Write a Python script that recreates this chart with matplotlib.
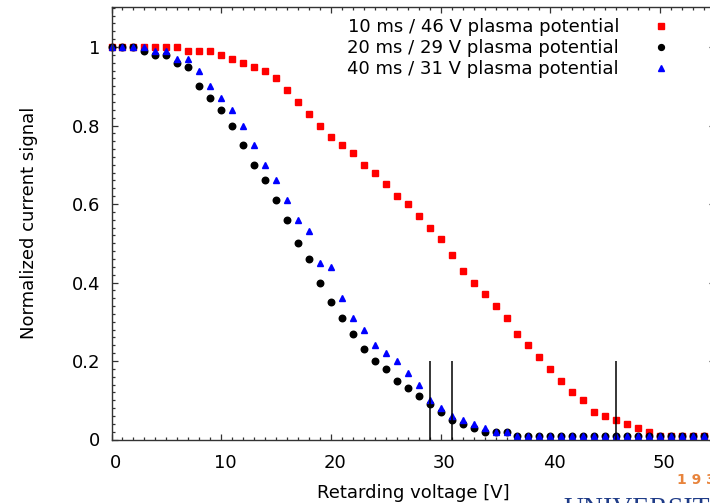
import matplotlib
matplotlib.use("Agg")
import matplotlib.pyplot as plt
from matplotlib.ticker import MultipleLocator, FuncFormatter
from matplotlib.transforms import ScaledTranslation

plt.rcParams['font.family'] = ['DejaVu Sans']

# ---- data ----
voltage = list(range(0, 55))

signal_10ms = [1.0, 1.0, 1.0, 1.0, 1.0, 1.0, 1.0, 0.99, 0.99, 0.99,
               0.98, 0.97, 0.96, 0.95, 0.94, 0.92, 0.89, 0.86, 0.83, 0.80,
               0.77, 0.75, 0.73, 0.70, 0.68, 0.65, 0.62, 0.60, 0.57, 0.54,
               0.51, 0.47, 0.43, 0.40, 0.37, 0.34, 0.31, 0.27, 0.24, 0.21,
               0.18, 0.15, 0.12, 0.10, 0.07, 0.06, 0.05, 0.04, 0.03, 0.02,
               0.01, 0.01, 0.01, 0.01, 0.01]

signal_20ms = [1.0, 1.0, 1.0, 0.99, 0.98, 0.98, 0.96, 0.95, 0.90, 0.87,
               0.84, 0.80, 0.75, 0.70, 0.66, 0.61, 0.56, 0.50, 0.46, 0.40,
               0.35, 0.31, 0.27, 0.23, 0.20, 0.18, 0.15, 0.13, 0.11, 0.09,
               0.07, 0.05, 0.04, 0.03, 0.02, 0.02, 0.02, 0.01, 0.01, 0.01,
               0.01, 0.01, 0.01, 0.01, 0.01, 0.01, 0.01, 0.01, 0.01, 0.01,
               0.01, 0.01, 0.01, 0.01, 0.01]

signal_40ms = [1.0, 1.0, 1.0, 1.0, 0.99, 0.99, 0.97, 0.97, 0.94, 0.90,
               0.87, 0.84, 0.80, 0.75, 0.70, 0.66, 0.61, 0.56, 0.53, 0.45,
               0.44, 0.36, 0.31, 0.28, 0.24, 0.22, 0.20, 0.17, 0.14, 0.10,
               0.08, 0.06, 0.05, 0.04, 0.03, 0.02, 0.02, 0.01, 0.01, 0.01,
               0.01, 0.01, 0.01, 0.01, 0.01, 0.01, 0.01, 0.01, 0.01, 0.01,
               0.01, 0.01, 0.01, 0.01, 0.01]

labels = ["10 ms / 46 V plasma potential",
          "20 ms / 29 V plasma potential",
          "40 ms / 31 V plasma potential"]
plasma_potentials = [29, 31, 46]
marker_line_height = 0.2

x_ticks = [0, 10, 20, 30, 40, 50]
y_ticks = [0, 0.2, 0.4, 0.6, 0.8, 1.0]

# ---- figure ----
W, H = 710, 503
fig = plt.figure(figsize=(W / 100, H / 100), dpi=100)
ax = fig.add_axes([111.5 / W, (H - 439.5) / H, (715 - 111.5) / W, (439.5 - 7) / H])

ax.plot(voltage, signal_10ms, linestyle='none', marker='s', ms=5.0,
        color='#ff0000', mec='#ff0000', label=labels[0], clip_on=False)
ax.plot(voltage, signal_20ms, linestyle='none', marker='o', ms=4.7,
        color='black', mec='black', label=labels[1], clip_on=False)
ax.plot(voltage, signal_40ms, linestyle='none', marker='^', ms=4.6,
        color='#0000ff', mec='#0000ff', label=labels[2], clip_on=False)

ax.vlines(plasma_potentials, 0, marker_line_height, color='black', lw=1.1)

ax.set_xlim(0, 55)
ax.set_ylim(0, 1.102)
ax.set_xticks(x_ticks)
ax.set_yticks(y_ticks)
ax.xaxis.set_minor_locator(MultipleLocator(1))
ax.yaxis.set_minor_locator(MultipleLocator(0.02))
ax.yaxis.set_major_formatter(FuncFormatter(lambda v, p: f"{v:g}"))

fs = 13
ax.tick_params(which='both', direction='in', top=True, right=True,
               color='#333333', width=0.9)
ax.tick_params(which='major', length=4.5, labelsize=fs)
ax.tick_params(which='minor', length=2.2)
ax.tick_params(axis='x', which='major', pad=10.8)
ax.tick_params(axis='y', which='major', pad=8.3)
for lab in ax.get_xticklabels():
    lab.set_transform(lab.get_transform() + ScaledTranslation(3.7 / 100, 0, fig.dpi_scale_trans))

for sp in ax.spines.values():
    sp.set_color('#333333')
    sp.set_linewidth(1.0)

ax.set_xlabel("Retarding voltage [V]", fontsize=fs)
ax.set_ylabel("Normalized current signal", fontsize=fs)
ax.xaxis.set_label_coords(0.5, (439.5 - 483.5) / 432.5)
ax.yaxis.set_label_coords((37.6 - 111.5) / 603.5, 0.5)

em = fs * 100 / 72
leg = ax.legend(loc='upper right', bbox_to_anchor=((661 + em / 2) / W, 1 - 17.9 / H),
                bbox_transform=fig.transFigure, markerfirst=False, frameon=False,
                handlelength=1.0, handletextpad=(661 - em / 2 - 619) / em,
                labelspacing=0.18, borderpad=0, borderaxespad=0,
                fontsize=fs, markerscale=0.9)

# watermark remnants seen at the bottom-right of the source image
fig.text(677 / W, 1 - 480 / H, "1 9 3", color='#e8843c', fontsize=10,
         fontweight='bold', va='center', ha='left')
fig.text(563 / W, 1 - 496.5 / H, "UNIVERSIT", color='#1f3c88', fontsize=20,
         family='Liberation Serif', va='top', ha='left')

fig.savefig("out.png", dpi=100)
